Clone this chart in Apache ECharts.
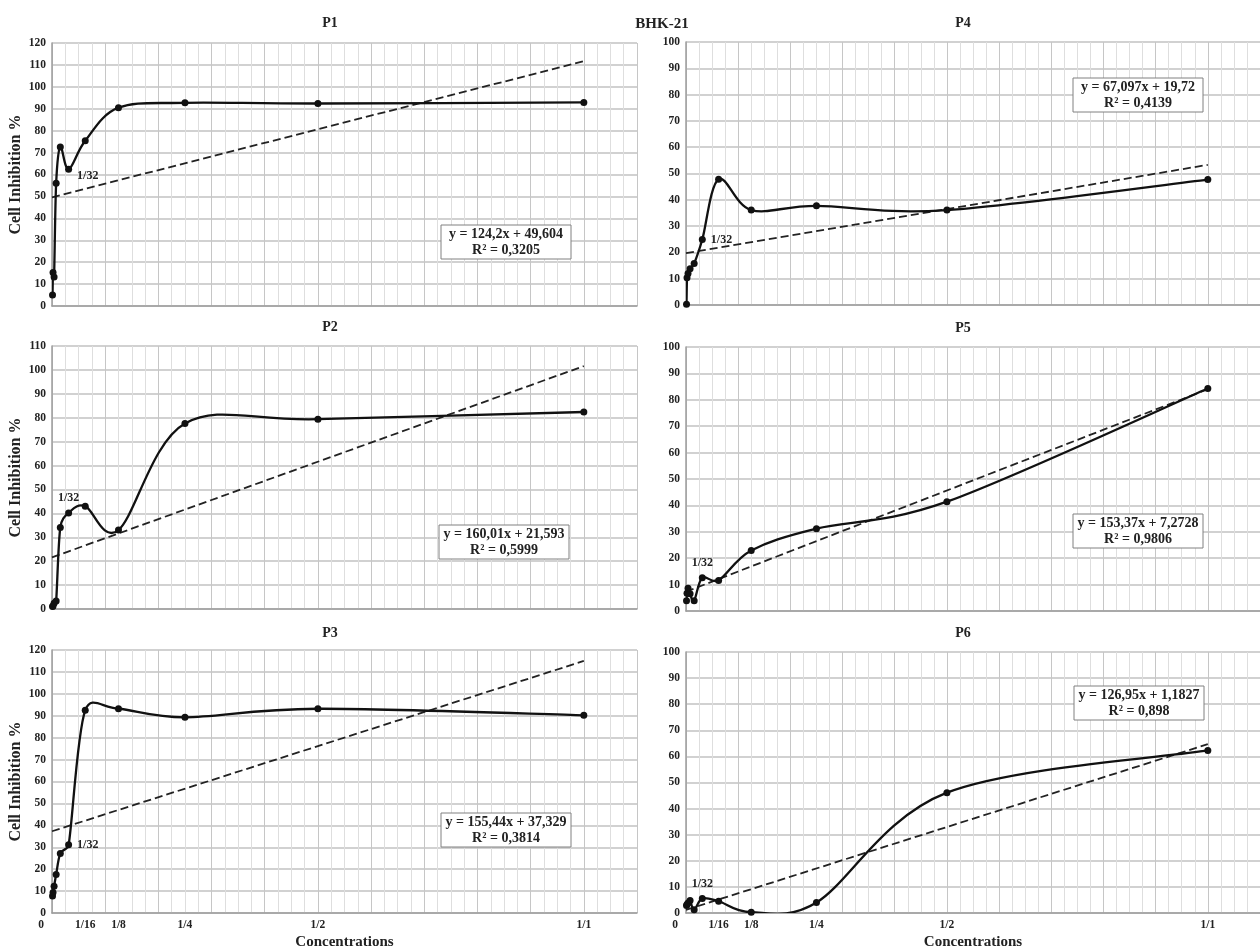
<!DOCTYPE html>
<html><head><meta charset="utf-8">
<script src="https://cdn.jsdelivr.net/npm/echarts@6/dist/echarts.min.js"></script>
<style>html,body{margin:0;padding:0;background:#fff}#c{width:1260px;height:951px}</style>
</head><body><div id="c"></div>
<script>
// ---------- data ----------
const chartTitle = 'BHK-21';
const panelNames = ['P1', 'P2', 'P3', 'P4', 'P5', 'P6'];
const concentrations = [1/1024, 1/512, 1/256, 1/128, 1/64, 1/32, 1/16, 1/8, 1/4, 1/2, 1];
const tickValues = [0, 1/16, 1/8, 1/4, 1/2, 1];
const tickLabels = ['0', '1/16', '1/8', '1/4', '1/2', '1/1'];
const p1 = [5.0, 15.3, 13.2, 56.0, 72.6, 62.4, 75.4, 90.5, 92.7, 92.4, 92.9];
const p2 = [1.0, 1.3, 2.4, 3.3, 34.1, 40.2, 43.0, 33.0, 77.6, 79.4, 82.4];
const p3 = [7.7, 9.4, 12.2, 17.6, 27.2, 31.1, 92.5, 93.2, 89.3, 93.2, 90.2];
const p4 = [0.3, 10.4, 12.0, 13.8, 15.8, 24.9, 47.8, 36.1, 37.7, 36.1, 47.7];
const p5 = [3.9, 6.7, 8.6, 6.5, 3.9, 12.6, 11.6, 22.9, 31.2, 41.4, 84.3];
const p6 = [2.9, 3.3, 3.8, 4.8, 1.2, 5.6, 4.5, 0.3, 4.0, 46.1, 62.3];
const trendX = [0, 1];
const trendStart = [49.6, 21.6, 37.3, 19.7, 7.3, 1.2];
const trendEnd = [111.7, 101.6, 115.0, 53.3, 84.0, 64.7];
const equations = ['y = 124,2x + 49,604', 'y = 160,01x + 21,593', 'y = 155,44x + 37,329',
                   'y = 67,097x + 19,72', 'y = 153,37x + 7,2728', 'y = 126,95x + 1,1827'];
const r2Labels = ['R² = 0,3205', 'R² = 0,5999', 'R² = 0,3814', 'R² = 0,4139', 'R² = 0,9806', 'R² = 0,898'];
const yMaxValues = [120, 110, 120, 100, 100, 100];
const markedIndex = 5;          // the 1/32 point
const markedLabel = '1/32';
const yAxisName = 'Cell Inhibition %';
const xAxisName = 'Concentrations';
const seriesValues = [p1, p2, p3, p4, p5, p6];

// ---------- layout ----------
const FONT = '"Liberation Serif", "Times New Roman", serif';
const layout = [
  {left: 52,  top: 43,  height: 263, title: [330, 23],  box: [506, 242], lab: {position: 'right', offset: [0, 7]}, yName: true,  bottom: false},
  {left: 52,  top: 346, height: 263, title: [330, 327], box: [504, 542], lab: {position: 'top', offset: [0, 0]},   yName: true,  bottom: false},
  {left: 52,  top: 650, height: 263, title: [330, 633], box: [506, 830], lab: {position: 'right', offset: [0, 0]}, yName: true,  bottom: true},
  {left: 686, top: 42,  height: 263, title: [963, 23],  box: [1138, 95], lab: {position: 'right', offset: [0, 0]}, yName: false, bottom: false},
  {left: 686, top: 347, height: 264, title: [963, 328], box: [1138, 531], lab: {position: 'top', offset: [0, 0]},  yName: false, bottom: false},
  {left: 686, top: 652, height: 262, title: [963, 633], box: [1139, 703], lab: {position: 'top', offset: [0, 0]},  yName: false, bottom: true}
];
const GRID_W = 585;

// Excel-style smoothed line: cubic Bezier segments through the projected points
function excelSegments(pts) {
  const segs = [];
  const d = (a, b) => Math.hypot(b[0] - a[0], b[1] - a[1]);
  for (let i = 0; i < pts.length - 1; i++) {
    const p0 = pts[i - 1] || pts[i], p1 = pts[i], p2 = pts[i + 1], p3 = pts[i + 2] || pts[i + 1];
    const d12 = d(p1, p2), d02 = d(p0, p2), d13 = d(p1, p3);
    const f1 = (d02 / 6 < d12 / 2) ? 1 / 6 : (d02 > 0 ? d12 / (2 * d02) : 0);
    const f2 = (d13 / 6 < d12 / 2) ? 1 / 6 : (d13 > 0 ? d12 / (2 * d13) : 0);
    segs.push({
      x1: p1[0], y1: p1[1],
      cpx1: p1[0] + (p2[0] - p0[0]) * f1, cpy1: p1[1] + (p2[1] - p0[1]) * f1,
      cpx2: p2[0] - (p3[0] - p1[0]) * f2, cpy2: p2[1] - (p3[1] - p1[1]) * f2,
      x2: p2[0], y2: p2[1]
    });
  }
  return segs;
}

const grids = [], xAxes = [], yAxes = [], series = [], graphics = [];

graphics.push({type: 'text', x: 662, y: 24, style: {text: chartTitle, fontFamily: FONT, fontWeight: 'bold', fontSize: 15,
  fill: '#222', align: 'center', verticalAlign: 'middle', textAlign: 'center', textVerticalAlign: 'middle'}});

layout.forEach((L, i) => {
  grids.push({left: L.left, top: L.top, width: GRID_W, height: L.height, containLabel: false});
  xAxes.push({
    type: 'value', gridIndex: i, min: 0, max: 1.1, interval: 0.1,
    name: L.bottom ? xAxisName : '', nameLocation: 'middle', nameGap: 22,
    nameTextStyle: {fontFamily: FONT, fontWeight: 'bold', fontSize: 15, color: '#222'},
    axisLine: {show: true, onZero: false, lineStyle: {color: '#9c9c9c', width: 1.5}},
    axisTick: {show: false},
    axisLabel: {
      show: L.bottom, customValues: tickValues, margin: 6,
      fontFamily: FONT, fontWeight: 'bold', fontSize: 11.5, color: '#222',
      formatter: (v) => {
        const k = tickValues.findIndex(t => Math.abs(t - v) < 1e-9);
        if (k === 0) return '{z|0}';
        return k >= 0 ? tickLabels[k] : '';
      },
      rich: {z: {padding: [0, 22, 0, 0], fontFamily: FONT, fontWeight: 'bold', fontSize: 11.5, color: '#222'}}
    },
    splitLine: {show: true, lineStyle: {color: '#c6c6c6', width: 1}},
    minorTick: {show: false, splitNumber: 4},
    minorSplitLine: {show: true, lineStyle: {color: '#dedede', width: 1}}
  });
  yAxes.push({
    type: 'value', gridIndex: i, min: 0, max: yMaxValues[i], interval: 10,
    name: L.yName ? yAxisName : '', nameLocation: 'middle', nameGap: 28, nameRotate: 90,
    nameTextStyle: {fontFamily: FONT, fontWeight: 'bold', fontSize: 16, color: '#222'},
    axisLine: {show: true, lineStyle: {color: '#9c9c9c', width: 1.5}},
    axisTick: {show: false},
    axisLabel: {fontFamily: FONT, fontWeight: 'bold', fontSize: 11.5, color: '#222', margin: 6},
    splitLine: {show: true, lineStyle: {color: '#c2c2c2', width: 1.5}}
  });
  // linear trend line (dashed)
  series.push({
    type: 'line', xAxisIndex: i, yAxisIndex: i, z: 2, silent: true,
    data: trendX.map((x, k) => [x, k === 0 ? trendStart[i] : trendEnd[i]]),
    symbol: 'none', lineStyle: {color: '#222', width: 1.8, type: [8, 4]}
  });
  const vals = seriesValues[i];
  const pointData = concentrations.map((c, k) => [c, vals[k]]);
  // smoothed curve
  series.push({
    type: 'custom', xAxisIndex: i, yAxisIndex: i, z: 3, silent: true, clip: true,
    data: pointData,
    renderItem: (params, api) => {
      if (params.dataIndex !== 0) return null;
      const pts = concentrations.map((c, k) => api.coord([c, vals[k]]));
      return {
        type: 'group',
        children: excelSegments(pts).map(s => ({
          type: 'bezierCurve', shape: s,
          style: {stroke: '#111', lineWidth: 2.3, fill: null, lineCap: 'round', lineJoin: 'round'}
        }))
      };
    }
  });
  // markers
  series.push({
    type: 'scatter', xAxisIndex: i, yAxisIndex: i, z: 4, silent: true,
    data: pointData.map((p, k) => {
      const d = {value: p};
      if (k === markedIndex) d.label = {show: true, formatter: markedLabel, position: L.lab.position, offset: L.lab.offset,
        distance: 5, fontFamily: FONT, fontWeight: 'bold', fontSize: 12, color: '#222'};
      return d;
    }),
    symbol: 'circle', symbolSize: 7,
    itemStyle: {color: '#111', opacity: 1}
  });
  graphics.push({type: 'text', x: L.title[0], y: L.title[1], style: {text: panelNames[i], fontFamily: FONT, fontWeight: 'bold', fontSize: 14,
    fill: '#222', align: 'center', verticalAlign: 'middle', textAlign: 'center', textVerticalAlign: 'middle'}});
  const bw = 130, bh = 34;
  graphics.push({type: 'rect', z: 10, shape: {x: L.box[0] - bw / 2, y: L.box[1] - bh / 2, width: bw, height: bh},
    style: {fill: '#fff', stroke: '#808080', lineWidth: 1}});
  graphics.push({type: 'text', z: 11, x: L.box[0], y: L.box[1], style: {text: equations[i] + '\n' + r2Labels[i],
    fontFamily: FONT, fontWeight: 'bold', fontSize: 14, lineHeight: 16, fill: '#222',
    align: 'center', verticalAlign: 'middle', textAlign: 'center', textVerticalAlign: 'middle'}});
});

const chart = echarts.init(document.getElementById('c'), null, {renderer: 'canvas'});
chart.setOption({
  backgroundColor: '#fff',
  animation: false,
  grid: grids, xAxis: xAxes, yAxis: yAxes, series: series, graphic: graphics
});
</script></body></html>
